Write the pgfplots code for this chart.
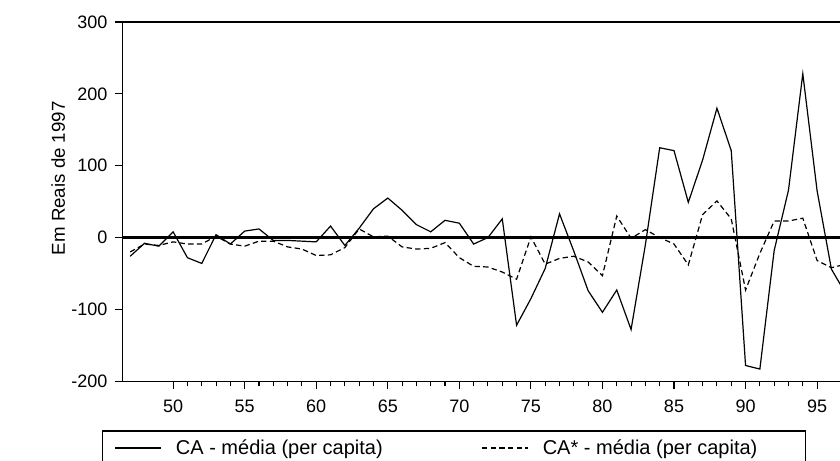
\documentclass[border=0pt]{standalone}
\usepackage{fontspec}
\setmainfont{Liberation Sans}
\usepackage{pgfplots}
\pgfplotsset{compat=1.18}
\newcommand\labfont{\fontsize{14}{16}\selectfont}
\newcommand\legfont{\fontsize{15}{17}\selectfont}
\newcommand\tickfont{\fontsize{13.5}{15}\selectfont}
\pgfplotsset{
  legA/.style={legend image code/.code={\draw[##1] (0pt,0pt) -- (34.5pt,0pt);}},
  legB/.style={legend image code/.code={\draw[##1] (0pt,0pt) -- (34.5pt,0pt);}},
}
\pgfplotstableread{
yr ca
47 -26
48 -8
49 -12
50 8
51 -28
52 -36
53 4
54 -9
55 9
56 12
57 -4
58 -4
59 -5
60 -6
61 16
62 -11
63 13
64 40
65 55
66 38
67 18
68 8
69 24
70 20
71 -9
72 0
73 26
74 -122
75 -85
76 -43
77 33
78 -19
79 -74
80 -104
81 -73
82 -128
83 -10
84 125
85 121
86 49
87 108
88 180
89 121
90 -178
91 -183
92 -18
93 66
94 228
95 65
96 -44
97 -78
}\tableCA
\pgfplotstableread{
yr cas
47 -20
48 -9
49 -11
50 -6
51 -9
52 -9
53 2
54 -9
55 -12
56 -5
57 -5
58 -13
59 -16
60 -25
61 -24
62 -14
63 12
64 1
65 2
66 -13
67 -16
68 -15
69 -7
70 -28
71 -40
72 -41
73 -48
74 -58
75 1
76 -37
77 -29
78 -26
79 -34
80 -53
81 30
82 -1
83 11
84 0
85 -9
86 -38
87 32
88 51
89 26
90 -73
91 -22
92 23
93 23
94 27
95 -32
96 -42
97 -37
}\tableCAs
\begin{document}
\begin{tikzpicture}
\begin{axis}[
  scale only axis,
  width=544pt, height=269.25pt,
  xmin=46.48, xmax=97.2, ymin=-200, ymax=300,
  xtick={50,55,...,95}, minor x tick num=4,
  ytick={-200,-100,0,100,200,300},
  xtick pos=left, ytick pos=left,
  tick align=outside,
  major tick length=6pt, minor tick length=3.75pt,
  tick style={black, line width=0.8pt},
  /pgf/number format/assume math mode=true,
  /pgf/number format/1000 sep={},
  xticklabel={\tickfont\pgfmathprintnumber{\tick}},
  yticklabel={\tickfont\pgfmathprintnumber{\tick}},
  xticklabel style={yshift=-4.5pt},
  yticklabel style={xshift=-2pt},
  axis line style={line width=1.1pt},
  ylabel={\labfont Em Reais de 1997},
  every axis y label/.style={at={(axis description cs:-0.073,0.565)}, rotate=90, anchor=south},
  legend columns=2,
  legend style={at={(axis description cs:-0.0285,-0.1365)}, anchor=north west,
    draw=black, line width=0.9pt, inner xsep=9pt, inner ysep=4.5pt,
    font=\legfont,
    /tikz/every odd column/.append style={column sep=8.5pt},
    /tikz/every even column/.append style={column sep=72pt}},
]
\addplot[line width=1.6pt, forget plot] coordinates {(46.48,0) (97.2,0)};
\addplot[black, line width=0.9pt, legA] table[x=yr, y=ca] {\tableCA};
\addlegendentry{CA - média (per capita)}
\addplot[black, line width=0.9pt, dash pattern=on 4pt off 2.5pt, legB] table[x=yr, y=cas] {\tableCAs};
\addlegendentry{CA* - média (per capita)\hspace*{25pt}}
\coordinate (axisSW) at (rel axis cs:0,0);
\coordinate (axisNE) at (axis cs:96.6,300);
\end{axis}
\pgfresetboundingbox
\path[use as bounding box] ([xshift=-92pt,yshift=-59.25pt]axisSW) rectangle ([yshift=16.5pt]axisNE);
\end{tikzpicture}
\end{document}
